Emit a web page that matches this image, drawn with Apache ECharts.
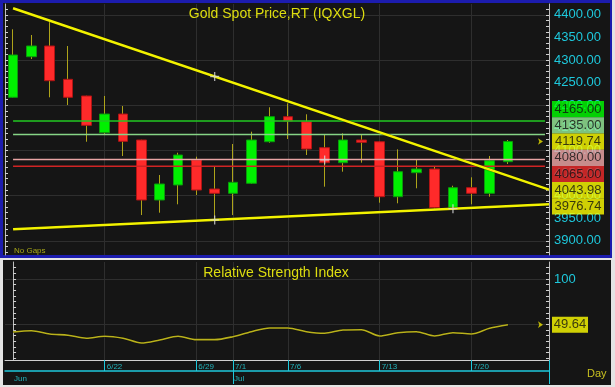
<!DOCTYPE html>
<html>
<head>
<meta charset="utf-8">
<script src="https://cdn.jsdelivr.net/npm/echarts@6/dist/echarts.min.js"></script>
<style>
  html, body { margin: 0; padding: 0; background: #e4e4e4; }
  #chart { width: 615px; height: 387px; }
</style>
</head>
<body>
<div id="chart"></div>
<script>
  // daily bars, Jun 15 - Jul 22
  var dates = ['6/15', '6/16', '6/17', '6/18', '6/19', '6/22', '6/23', '6/24', '6/25', '6/26',
    '6/29', '6/30', '7/1', '7/2', '7/3', '7/6', '7/7', '7/8', '7/9', '7/10',
    '7/13', '7/14', '7/15', '7/16', '7/17', '7/20', '7/21', '7/22'];
  var opens = [4217.5, 4307.3, 4331.0, 4257.3, 4220.4, 4139.2, 4180.5, 4123.0, 3990.3, 4023.5,
    4078.8, 4014.6, 4005.1, 4027.2, 4119.2, 4174.6, 4163.5, 4106.0, 4072.8, 4123.0,
    4119.2, 3997.6, 4050.7, 4058.8, 3973.2, 4017.5, 4005.1, 4075.0];
  var closes = [4311.1, 4331.0, 4254.2, 4217.5, 4155.5, 4180.5, 4120.1, 3990.3, 4025.7, 4089.8,
    4012.4, 4005.1, 4029.4, 4123.0, 4174.6, 4165.0, 4103.1, 4072.8, 4123.0, 4117.9,
    3997.6, 4052.9, 4058.8, 3973.2, 4017.5, 4005.1, 4077.2, 4119.74];
  var lows = [4217.0, 4302.2, 4217.5, 4200.4, 4119.2, 4134.0, 4087.6, 3957.0, 3962.2, 3980.8,
    4001.3, 3947.6, 3957.0, 4026.0, 4117.0, 4125.2, 4089.8, 4019.7, 4052.9, 4072.8,
    3984.3, 3983.0, 4016.2, 3969.7, 3972.0, 3980.8, 3997.6, 4069.9];
  var highs = [4367.9, 4355.3, 4388.5, 4331.0, 4221.0, 4220.4, 4198.2, 4123.5, 4045.6, 4094.9,
    4086.1, 4063.9, 4114.2, 4141.4, 4195.4, 4204.2, 4179.9, 4134.1, 4137.8, 4134.0,
    4120.0, 4102.4, 4078.8, 4063.9, 4021.9, 4040.5, 4087.6, 4123.0];
  var rsi = [41.6, 43.0, 39.4, 38.0, 34.7, 36.9, 34.7, 29.5, 32.8, 36.9,
    33.1, 33.1, 36.4, 41.9, 46.0, 46.0, 41.9, 40.2, 43.8, 44.1,
    37.2, 40.8, 41.9, 37.2, 40.8, 39.4, 45.7, 49.64];

  var levels = [4165, 4135, 4080, 4065];
  // trend lines: value at first bar and at last bar
  var downTrend = [4414.4, 4043.98];
  var upTrend = [3925.4, 3976.74];
  var anchorPoints = [[11, 4263.5], [17, 4079.0], [11, 3946.3], [24, 3971.0]];

  var priceLabels = [4400, 4350, 4300, 4250, 4200, 4150, 4100, 4050, 4000, 3950, 3900];
  var priceGrid = [4400, 4300, 4200, 4100, 4000, 3900];
  var rsiLabels = [100];
  var rsiGrid = [50, 100];
  var dateTicks = ['6/22', '6/29', '7/1', '7/6', '7/13', '7/20'];
  var months = ['Jun', 'Jul'];

  var FONT = "'Liberation Sans', Arial, sans-serif";
  var X_MIN = -0.44, X_MAX = 29.24;
  var Y_MIN = 3868.6, Y_MAX = 4423.9;
  var RSI_MIN = 10.7, RSI_MAX = 118.7;
  var MAIN_TOP = 4, MAIN_H = 251;
  var GRID_LINE = '#2e2e2e';
  var CYAN = '#1ec8dc';
  var OLIVE = '#c8c020';

  var lastIdx = dates.length - 1;
  var lineEnd = 29.02;

  var wickData = [], bodyData = [];
  for (var i = 0; i < dates.length; i++) {
    wickData.push([i, opens[i], closes[i], lows[i], highs[i]]);
    bodyData.push([i, opens[i], closes[i], Math.min(opens[i], closes[i]), Math.max(opens[i], closes[i])]);
  }

  function trendAt(t, x) {
    return t[0] + (t[1] - t[0]) * x / lastIdx;
  }

  var levelColors = {4165: '#22c822', 4135: '#86d486', 4080: '#e8a4a4', 4065: '#d02424'};
  var badgeColors = {4165: '#00ff00', 4135: '#98ee98', 4080: '#f4aaaa', 4065: '#f02a2a'};

  // right-hand badges, stacked so they never overlap
  var pxPerUnit = MAIN_H / (Y_MAX - Y_MIN);
  var badgeH = 16.2;
  var badges = [
    {value: levels[0], color: badgeColors[4165]},
    {value: levels[1], color: badgeColors[4135]},
    {value: closes[lastIdx], color: '#ffff00'},
    {value: levels[2], color: badgeColors[4080]},
    {value: levels[3], color: badgeColors[4065]},
    {value: downTrend[1], color: '#ffff00'},
    {value: upTrend[1], color: '#ffff00'}
  ];
  (function stack(items, h) {
    var groups = items.slice().sort(function (a, b) { return b.value - a.value; })
      .map(function (it) { return {items: [it], center: it.value}; });
    var merged = true;
    while (merged) {
      merged = false;
      for (var k = 0; k < groups.length - 1; k++) {
        var g1 = groups[k], g2 = groups[k + 1];
        if (g2.center + g2.items.length * h / 2 > g1.center - g1.items.length * h / 2) {
          var all = g1.items.concat(g2.items);
          var mean = all.reduce(function (s, it) { return s + it.value; }, 0) / all.length;
          groups.splice(k, 2, {items: all, center: mean});
          merged = true;
          break;
        }
      }
    }
    groups.forEach(function (g) {
      var n = g.items.length;
      g.items.forEach(function (it, j) { it.pos = g.center + ((n - 1) / 2 - j) * h; });
    });
  })(badges, badgeH / pxPerUnit);

  function range(a, b, step) {
    var out = [];
    for (var v = a; v <= b + 1e-9; v += step) out.push(v);
    return out;
  }

  var decoTick = function (gridIndex, pos, min, max, values) {
    return {
      gridIndex: gridIndex, type: 'value', position: pos, min: min, max: max,
      axisLine: {show: true, lineStyle: {color: '#bdbdbd', width: 1}},
      axisTick: {show: true, inside: true, length: 3, customValues: values, lineStyle: {color: '#d0d0d0'}},
      axisLabel: {show: false}, splitLine: {show: false}
    };
  };

  var chart = echarts.init(document.getElementById('chart'));

  var option = {
    backgroundColor: '#e4e4e4',
    animation: false,
    graphic: [
      {type: 'rect', z: -20, shape: {x: 0, y: 0, width: 612, height: 258}, style: {fill: '#1c1cae'}},
      {type: 'rect', z: -19, shape: {x: 3, y: 3, width: 607, height: 252}, style: {fill: '#151515'}},
      {type: 'rect', z: -19, shape: {x: 3, y: 260, width: 608, height: 125}, style: {fill: '#151515'}},
      {type: 'text', z: 5, x: 277, y: 7, style: {text: 'Gold Spot Price,RT (IQXGL)', align: 'center', fill: '#dede10', font: '14px ' + FONT}},
      {type: 'text', z: 5, x: 276, y: 266, style: {text: 'Relative Strength Index', align: 'center', fill: '#dede10', font: '14px ' + FONT}},
      {type: 'text', z: 5, x: 14, y: 247, style: {text: 'No Gaps', fill: '#a8a818', font: '8px ' + FONT}},
      {type: 'text', z: 5, x: 587, y: 368, style: {text: 'Day', fill: OLIVE, font: '11px ' + FONT}}
    ],
    grid: [
      {left: 5, right: 66, top: MAIN_TOP, height: MAIN_H},
      {left: 5, right: 66, top: 262, height: 98}
    ],
    xAxis: [
      {
        gridIndex: 0, type: 'value', min: X_MIN, max: X_MAX,
        axisLine: {show: false}, axisLabel: {show: false},
        axisTick: {show: false, customValues: dateTicks.map(function (d) { return dates.indexOf(d); })},
        splitLine: {show: true, lineStyle: {color: GRID_LINE, width: 1}}
      },
      {
        gridIndex: 1, type: 'value', min: X_MIN, max: X_MAX, position: 'bottom',
        axisLine: {show: true, lineStyle: {color: '#cfcfcf', width: 1}},
        axisTick: {show: true, length: 11, customValues: dateTicks.map(function (d) { return dates.indexOf(d); }).concat([X_MAX]),
          lineStyle: {color: CYAN, width: 1}},
        axisLabel: {
          show: true, customValues: dateTicks.map(function (d) { return dates.indexOf(d); }),
          formatter: function (v) { return dates[Math.round(v)]; },
          align: 'left', padding: [0, 0, 0, 2], margin: 3, color: '#22b4bc', fontSize: 8, fontFamily: FONT
        },
        splitLine: {show: true, lineStyle: {color: GRID_LINE, width: 1}}
      },
      {
        gridIndex: 1, type: 'value', min: X_MIN, max: X_MAX, position: 'bottom', offset: 11,
        axisLine: {show: true, lineStyle: {color: CYAN, width: 1.5}},
        axisTick: {show: true, length: 13, customValues: [dates.indexOf('7/1'), X_MAX], lineStyle: {color: CYAN, width: 1}},
        axisLabel: {
          show: true, customValues: [0, dates.indexOf('7/1')],
          formatter: function (v) { return v === 0 ? months[0] : months[1]; },
          align: 'left', padding: [0, 0, 0, 1], margin: 4, color: '#22b4bc', fontSize: 8, fontFamily: FONT
        },
        splitLine: {show: false}
      }
    ],
    yAxis: [
      {
        gridIndex: 0, type: 'value', position: 'right', min: Y_MIN, max: Y_MAX,
        axisLine: {show: false},
        axisTick: {show: false, customValues: priceGrid},
        axisLabel: {
          show: true, customValues: priceLabels, margin: 5,
          formatter: function (v) { return v.toFixed(2); },
          color: CYAN, fontSize: 13, fontFamily: FONT
        },
        splitLine: {show: true, lineStyle: {color: GRID_LINE, width: 1}}
      },
      decoTick(0, 'left', Y_MIN, Y_MAX, range(3875, 4420, 12.5)),
      decoTick(0, 'right', Y_MIN, Y_MAX, range(3875, 4420, 12.5)),
      {
        gridIndex: 1, type: 'value', position: 'right', min: RSI_MIN, max: RSI_MAX,
        axisLine: {show: false},
        axisTick: {show: false, customValues: rsiGrid},
        axisLabel: {
          show: true, customValues: rsiLabels, margin: 5,
          color: CYAN, fontSize: 13, fontFamily: FONT
        },
        splitLine: {show: true, lineStyle: {color: GRID_LINE, width: 1}}
      },
      decoTick(1, 'left', RSI_MIN, RSI_MAX, range(12.5, 118, 6.25)),
      decoTick(1, 'right', RSI_MIN, RSI_MAX, range(12.5, 118, 6.25))
    ],
    series: [
      {
        name: 'wick', type: 'candlestick', xAxisIndex: 0, yAxisIndex: 0, z: 2,
        barWidth: 1,
        itemStyle: {color: '#aea41a', color0: '#aea41a', borderColor: '#aea41a', borderColor0: '#aea41a', borderWidth: 1},
        data: wickData
      },
      {
        name: 'body', type: 'candlestick', xAxisIndex: 0, yAxisIndex: 0, z: 3,
        barWidth: 10,
        itemStyle: {color: '#00f000', color0: '#ff2a2a', borderColor: '#0c9a0c', borderColor0: '#b01414', borderWidth: 1},
        data: bodyData
      }
    ].concat(levels.map(function (v) {
      return {
        type: 'line', xAxisIndex: 0, yAxisIndex: 0, z: 4, symbol: 'none', silent: true,
        lineStyle: {color: levelColors[v], width: 1.5},
        data: [[0, v], [lineEnd, v]]
      };
    })).concat([
      {
        type: 'line', xAxisIndex: 0, yAxisIndex: 0, z: 5, symbol: 'none', silent: true,
        lineStyle: {color: '#f2f200', width: 2.6, shadowColor: '#000', shadowBlur: 1},
        data: [[0, downTrend[0]], [X_MAX, trendAt(downTrend, X_MAX)]]
      },
      {
        type: 'line', xAxisIndex: 0, yAxisIndex: 0, z: 5, symbol: 'none', silent: true,
        lineStyle: {color: '#f2f200', width: 2.6, shadowColor: '#000', shadowBlur: 1},
        data: [[0, upTrend[0]], [X_MAX, trendAt(upTrend, X_MAX)]]
      },
      {
        type: 'scatter', xAxisIndex: 0, yAxisIndex: 0, z: 6, silent: true,
        symbol: 'path://M3,0H4V7H3Z M0,3H7V4H0Z', symbolSize: 9,
        itemStyle: {color: '#d8d8d8'},
        data: anchorPoints
      },
      {
        type: 'scatter', xAxisIndex: 0, yAxisIndex: 0, z: 8, silent: true, clip: false,
        symbol: 'rect', symbolSize: [52, badgeH], symbolOffset: [29, 0],
        label: {
          show: true, position: 'inside', color: '#101010', fontSize: 13, fontFamily: FONT,
          formatter: function (p) { return p.value[2].toFixed(2); }
        },
        data: badges.map(function (b) {
          return {value: [X_MAX, b.pos, b.value], itemStyle: {color: b.color}};
        })
      },
      {
        type: 'scatter', xAxisIndex: 0, yAxisIndex: 0, z: 8, silent: true, clip: false,
        symbol: 'arrow', symbolRotate: -90, symbolSize: [5, 5], symbolOffset: [-6, 0],
        itemStyle: {color: '#e8e000'},
        data: [[X_MAX, closes[lastIdx]]]
      },
      {
        type: 'line', xAxisIndex: 1, yAxisIndex: 3, z: 4, symbol: 'none', silent: true,
        smooth: 0.3,
        lineStyle: {color: '#bab21c', width: 1.6, shadowColor: '#000', shadowBlur: 1},
        data: rsi.map(function (v, k) { return [k, v]; })
      },
      {
        type: 'scatter', xAxisIndex: 1, yAxisIndex: 3, z: 8, silent: true, clip: false,
        symbol: 'rect', symbolSize: [36, 16], symbolOffset: [21, 0],
        itemStyle: {color: '#ffff00'},
        label: {
          show: true, position: 'inside', color: '#101010', fontSize: 13, fontFamily: FONT,
          formatter: function (p) { return p.value[1].toFixed(2); }
        },
        data: [[X_MAX, rsi[lastIdx]]]
      },
      {
        type: 'scatter', xAxisIndex: 1, yAxisIndex: 3, z: 8, silent: true, clip: false,
        symbol: 'arrow', symbolRotate: -90, symbolSize: [5, 5], symbolOffset: [-6, 0],
        itemStyle: {color: '#e8e000'},
        data: [[X_MAX, rsi[lastIdx]]]
      }
    ])
  };

  chart.setOption(option);
</script>
</body>
</html>
